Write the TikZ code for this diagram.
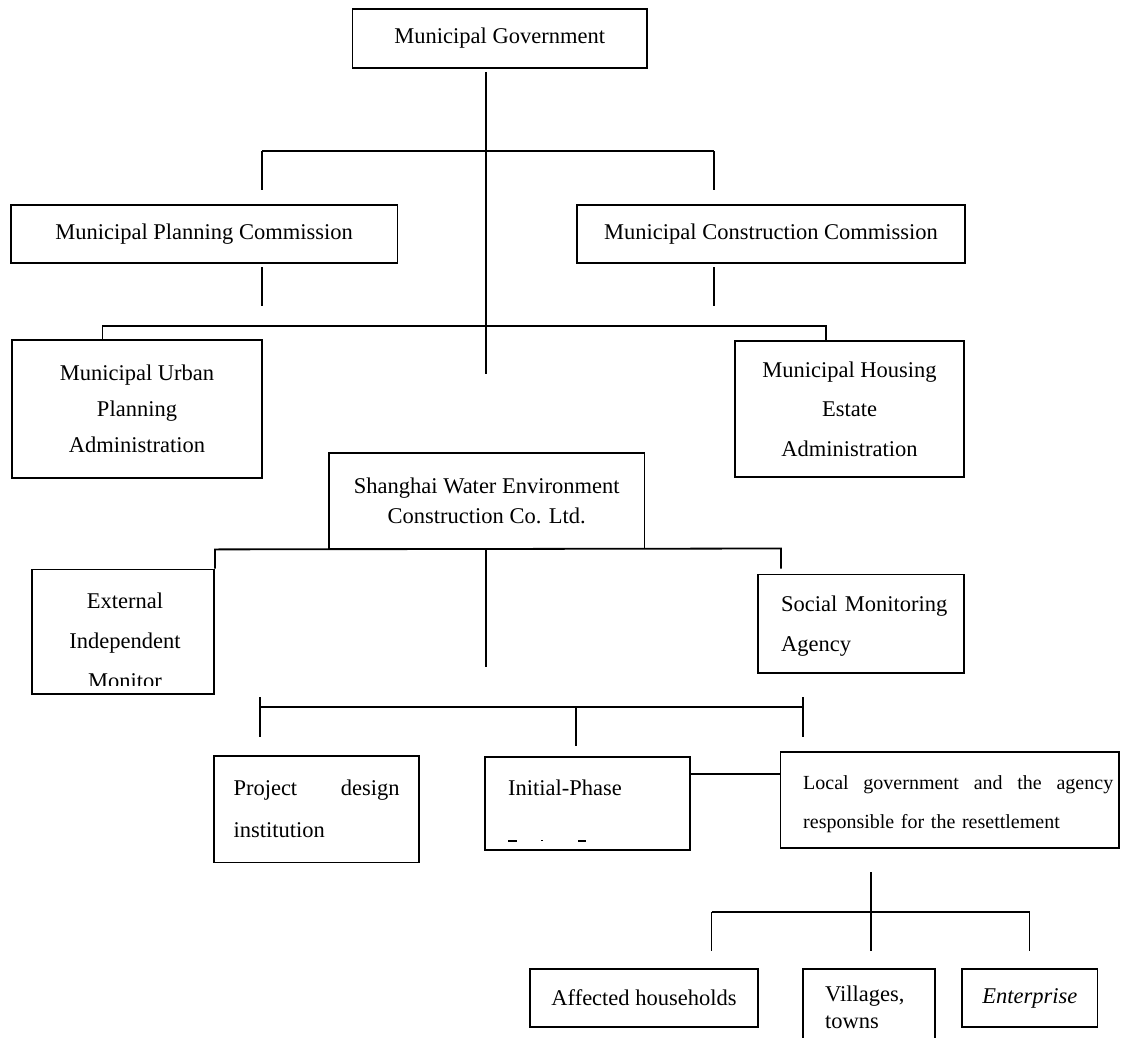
\documentclass[tikz,border=0pt]{standalone}
\usepackage{fontspec}
\setmainfont{Liberation Serif}
\usetikzlibrary{calc}
\begin{document}
\begin{tikzpicture}[x=1pt,y=-1pt,
  box/.style={draw, line width=1.8pt, inner sep=0pt, align=center, font=\fontsize{22.5}{38}\selectfont},
  conn/.style={line width=1.8pt},
  lbl/.style={inner sep=0pt, font=\fontsize{22.5}{40}\selectfont}]
\useasboundingbox[fill=white] (0,0) rectangle (1121,1038);

% boxes
\node[box, minimum width=294.5pt, minimum height=59pt] (mg) at (499.75,38.5) {Municipal Government};
\node[box, minimum width=386.8pt, minimum height=58.5pt] (mpc) at (204.1,234) {Municipal Planning Commission};
\node[box, minimum width=388pt, minimum height=58.5pt] (mcc) at (771,234) {Municipal Construction Commission};
\node[box, minimum width=250pt, minimum height=138pt, font=\fontsize{22.5}{36}\selectfont] (mupa) at (137,409) {Municipal Urban\\Planning\\Administration};
\node[box, minimum width=229pt, minimum height=136pt, font=\fontsize{22.5}{39.5}\selectfont] (mhea) at (849.5,409) {Municipal Housing\\Estate\\Administration};
\node[box, minimum width=315.5pt, minimum height=95.5pt, font=\fontsize{22.5}{30}\selectfont] (swec) at (486.75,500.75) {Shanghai Water Environment\\Construction Co. Ltd.};
\node[box, minimum width=182pt, minimum height=124.5pt] (eim) at (123,631.75) {};
\begin{scope}
  \clip (32,569.5) rectangle (214,685);
  \node[lbl, anchor=base, align=center, text width=182pt] (eimtext) at (125,608) {External\\Independent\\Monitor};
\end{scope}
\node[box, minimum width=206pt, minimum height=98.5pt] (sma) at (861,623.75) {};
\node[lbl, anchor=base west, align=left, text width=180pt] (smatext) at (781,611) {Social Monitoring\\Agency};
\node[box, minimum width=205pt, minimum height=106.5pt, font=\fontsize{22.5}{42}\selectfont, text width=166pt, align=left] (pdi) at (316.5,809.25) {Project\hfill design\\institution};
\node[box, minimum width=205pt, minimum height=93pt] (ip) at (587.5,803.5) {};
\node[lbl, anchor=base west] (iptext) at (508,795) {Initial-Phase};
\node[box, minimum width=338.5pt, minimum height=96pt] (lg) at (949.75,800) {};
\node[lbl, anchor=base west, align=left, text width=310pt, font=\fontsize{20}{39.5}\selectfont] (lgtext) at (803,789) {Local\hfill government\hfill and\hfill the\hfill agency\\responsible for the resettlement};
\node[box, minimum width=228pt, minimum height=58pt] (ah) at (644,998) {Affected households};
\node[box, minimum width=132pt, minimum height=72pt] (vt) at (869,1005) {};
\node[lbl, anchor=base west, align=left, text width=100pt, font=\fontsize{22.5}{27}\selectfont] (vttext) at (825,1001) {Villages,\\towns};
\node[box, minimum width=135.5pt, minimum height=58pt, font=\fontsize{22.5}{38}\selectfont\itshape] (ent) at (1029.75,998) {Enterprise};

% remnants of cut text in Initial-Phase box
\draw[line width=1.3pt] (508,841) -- (517,841) (541,840.5) -- (543,840.5) (578,841) -- (586,841);

% connectors
\coordinate (a1) at (486,72);
\coordinate (a2) at (486,374);
\draw[conn] (a1) -- (a2);
\coordinate (h1l) at (262,151);
\coordinate (h1r) at (714,151);
\draw[conn] (h1l) -- (h1r);
\draw[conn] (h1l) -- ++(0,39);
\draw[conn] (h1r) -- ++(0,39);
\coordinate (p1) at (262,267);
\coordinate (p2) at (714,267);
\draw[conn] (p1) -- ++(0,39);
\draw[conn] (p2) -- ++(0,39);
\coordinate (h2l) at (102.5,326);
\coordinate (h2r) at (826,326);
\draw[conn] (h2l |- mupa.north) -- (h2l) -- (h2r) -- (h2r |- mhea.north);
\coordinate (h3l) at (eim.north east |- swec.south);
\coordinate (h3r) at (781,548.5);
\draw[conn] (eim.north east) -- (h3l) -- (h3r) -- ++(0,20);
\coordinate (a3) at (486,667);
\draw[conn] (swec.south -| a1) -- (a3);
\coordinate (h4l) at (260,707);
\coordinate (h4r) at (803,707);
\coordinate (h4m) at (576,707);
\draw[conn] (h4l) -- (h4r);
\draw[conn] ($(h4l)+(0,-10)$) -- ($(h4l)+(0,30)$);
\draw[conn] ($(h4r)+(0,-10)$) -- ($(h4r)+(0,30)$);
\draw[conn] (h4m) -- ++(0,39);
\coordinate (ipc) at ($(ip.north east)+(0,18)$);
\draw[conn] (ipc) -- (ipc -| lg.west);
\coordinate (v5) at (871,872);
\coordinate (v5b) at (871,951);
\draw[conn] (v5) -- (v5b);
\coordinate (h5l) at (711.5,912);
\coordinate (h5r) at (1029.5,912);
\draw[conn] (h5l) -- (h5r);
\draw[conn] (h5l) -- ++(0,39);
\draw[conn] (h5r) -- ++(0,39);
\end{tikzpicture}
\end{document}
